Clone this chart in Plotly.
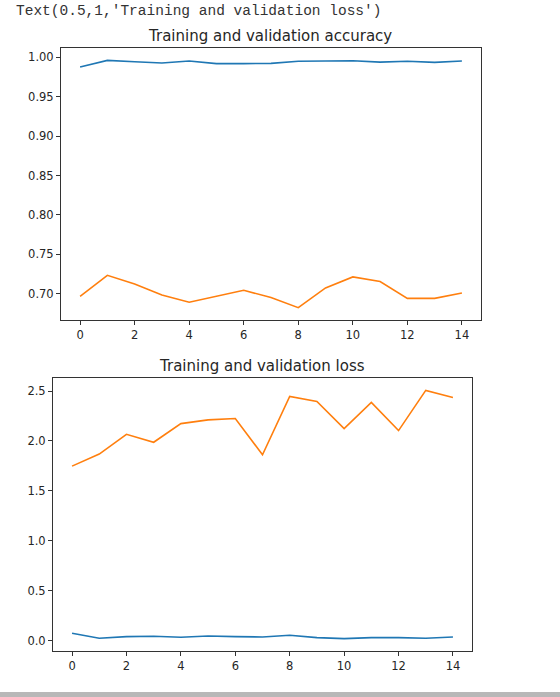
import plotly.graph_objects as go

epochs = list(range(15))

acc = [0.9877, 0.9962, 0.9945, 0.9928, 0.9953, 0.9920, 0.9920, 0.9924,
       0.9950, 0.9950, 0.9958, 0.9940, 0.9950, 0.9936, 0.9953]
val_acc = [0.6966, 0.7233, 0.7123, 0.6983, 0.6890, 0.6970, 0.7042, 0.6950,
           0.6822, 0.7072, 0.7212, 0.7153, 0.6940, 0.6940, 0.7008]

loss = [0.074, 0.023, 0.040, 0.044, 0.034, 0.047, 0.040, 0.037,
        0.054, 0.030, 0.020, 0.030, 0.030, 0.023, 0.037]
val_loss = [1.748, 1.869, 2.067, 1.987, 2.174, 2.211, 2.225, 1.862,
            2.446, 2.396, 2.124, 2.386, 2.104, 2.507, 2.436]

acc_ticks = [0.70, 0.75, 0.80, 0.85, 0.90, 0.95, 1.00]
loss_ticks = [0.0, 0.5, 1.0, 1.5, 2.0, 2.5]
x_ticks = [0, 2, 4, 6, 8, 10, 12, 14]

W, H = 560, 697
BLUE = "#1f77b4"
ORANGE = "#ff7f0e"


def px_x(p):
    return p / W


def px_y(p):
    return 1 - p / H


fig = go.Figure()

fig.add_trace(go.Scatter(x=epochs, y=acc, mode="lines", line=dict(color=BLUE, width=1.6),
                         xaxis="x", yaxis="y"))
fig.add_trace(go.Scatter(x=epochs, y=val_acc, mode="lines", line=dict(color=ORANGE, width=1.6),
                         xaxis="x", yaxis="y"))
fig.add_trace(go.Scatter(x=epochs, y=loss, mode="lines", line=dict(color=BLUE, width=1.6),
                         xaxis="x2", yaxis="y2"))
fig.add_trace(go.Scatter(x=epochs, y=val_loss, mode="lines", line=dict(color=ORANGE, width=1.6),
                         xaxis="x2", yaxis="y2"))

axis_style = dict(showline=True, linecolor="#333333", linewidth=1, mirror=True,
                  showgrid=False, zeroline=False, ticks="outside", ticklen=4,
                  tickcolor="#333333", tickfont=dict(family="DejaVu Sans", size=11.5, color="#262626"))

fig.update_layout(
    width=W, height=H,
    margin=dict(l=0, r=0, t=0, b=0),
    paper_bgcolor="white", plot_bgcolor="white",
    showlegend=False,
    xaxis=dict(domain=[px_x(61), px_x(481)], anchor="y", range=[-0.7, 14.7],
               tickvals=x_ticks, **axis_style),
    yaxis=dict(domain=[px_y(320), px_y(48)], anchor="x", range=[0.6665, 1.0119],
               tickvals=acc_ticks, tickformat=".2f", **axis_style),
    xaxis2=dict(domain=[px_x(53), px_x(472)], anchor="y2", range=[-0.7, 14.7],
                tickvals=x_ticks, **axis_style),
    yaxis2=dict(domain=[px_y(651), px_y(378)], anchor="x2", range=[-0.104, 2.631],
                tickvals=loss_ticks, tickformat=".1f", **axis_style),
)

title_font = dict(family="DejaVu Sans", size=15, color="#262626")
fig.add_annotation(text="Training and validation accuracy", xref="paper", yref="paper",
                   x=px_x(270), y=px_y(36), xanchor="center", yanchor="middle",
                   showarrow=False, font=title_font)
fig.add_annotation(text="Training and validation loss", xref="paper", yref="paper",
                   x=px_x(262), y=px_y(366), xanchor="center", yanchor="middle",
                   showarrow=False, font=title_font)
fig.add_annotation(text="Text(0.5,1,'Training and validation loss')", xref="paper", yref="paper",
                   x=px_x(14), y=px_y(11), xanchor="left", yanchor="middle",
                   showarrow=False, font=dict(family="Liberation Mono", size=14.5, color="#333333"))

# notebook cell separator at the bottom
fig.add_shape(type="rect", xref="paper", yref="paper", x0=0, x1=1, y0=0, y1=px_y(692),
              line=dict(width=0), fillcolor="#b8b8b8")

# drop the default body margin so the figure sits at the window's corner
fig.write_html("out.html", config={"displayModeBar": False},
               post_script="document.body.style.margin='0';document.body.style.overflow='hidden';")
